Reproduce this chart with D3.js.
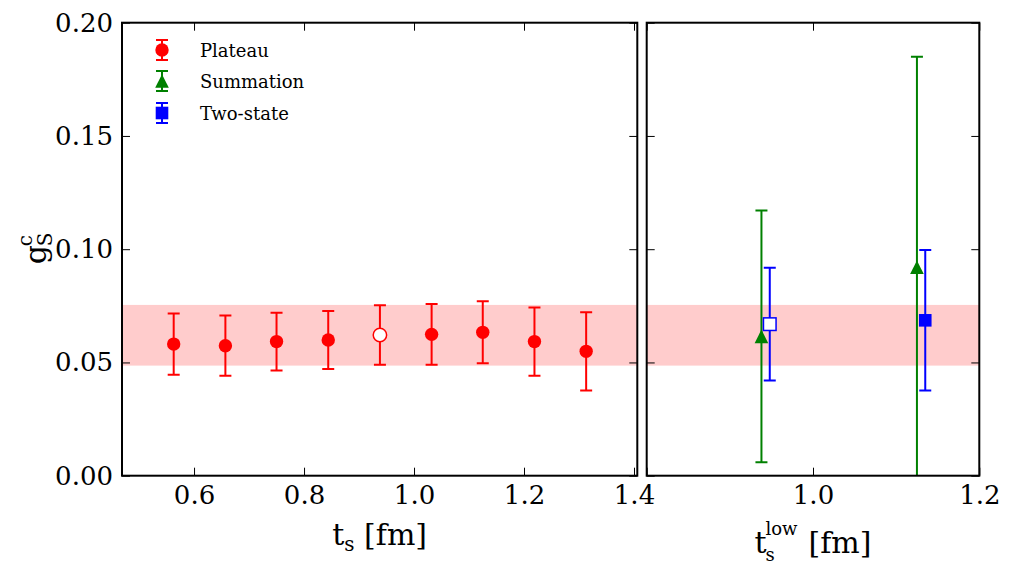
<!DOCTYPE html>
<html>
<head>
<meta charset="utf-8">
<script src="https://cdn.jsdelivr.net/npm/d3@7"></script>
<style>
  body { margin: 0; background: #fff; }
  text { font-family: "DejaVu Serif", serif; }
</style>
</head>
<body>
<svg id="chart"></svg>
<script>
// plateau fits vs source-sink separation
let tsPlateau = [0.563, 0.657, 0.750, 0.844, 0.938, 1.032, 1.125, 1.219, 1.313];
let gPlateau = [0.0581, 0.0574, 0.0592, 0.0599, 0.0621, 0.0624, 0.0633, 0.0592, 0.0549];
let errPlateau = [0.0135, 0.0133, 0.0127, 0.0128, 0.0131, 0.0134, 0.0137, 0.0151, 0.0173];
let openPlateau = [false, false, false, false, true, false, false, false, false];

// summation and two-state fits vs t_s^low
let tsSummation = [0.938, 1.125];
let gSummation = [0.0615, 0.092];
let errSummation = [0.0556, 0.093];
let openSummation = [false, false];

let tsTwoState = [0.948, 1.135];
let gTwoState = [0.0669, 0.0686];
let errTwoState = [0.0249, 0.031];
let openTwoState = [true, false];

// final band
let band = [0.0486, 0.0754];

let leftXTicks = [0.6, 0.8, 1.0, 1.2, 1.4];
let rightXTicks = [0.8, 1.0, 1.2];
let yTicks = [0, 0.05, 0.10, 0.15, 0.20];

let width = 1020, height = 574;
let top_ = 22.7, bottom = 475.7;
let svg = d3.select('#chart').attr('width', width).attr('height', height);

let y = d3.scaleLinear().domain([0, 0.2]).range([bottom, top_]);
let xL = d3.scaleLinear().domain([0.469, 1.406]).range([122, 637.3]);
let xR = d3.scaleLinear().domain([0.8, 1.2]).range([646.7, 979.3]);

let red = '#ff0000', green = '#008000', blue = '#0000ff';

// clip paths for the two panels
let defs = svg.append('defs');
[['clipL', xL], ['clipR', xR]].forEach(([id, sc]) => {
    defs.append('clipPath').attr('id', id).append('rect')
        .attr('x', sc.range()[0]).attr('y', top_)
        .attr('width', sc.range()[1] - sc.range()[0]).attr('height', bottom - top_);
});

let marker = (g, shape, cx, cy, r, color, open) => {
    let fill = open ? '#fff' : color;
    if (shape === 'circle') {
        g.append('circle').attr('cx', cx).attr('cy', cy).attr('r', r)
            .attr('fill', fill).attr('stroke', color).attr('stroke-width', open ? 1.5 : 0);
    } else if (shape === 'triangle') {
        g.append('path')
            .attr('d', `M${cx},${cy - r}L${cx - r},${cy + r}L${cx + r},${cy + r}Z`)
            .attr('fill', fill).attr('stroke', color).attr('stroke-width', open ? 1.5 : 0);
    } else {
        g.append('rect').attr('x', cx - r).attr('y', cy - r)
            .attr('width', 2 * r).attr('height', 2 * r)
            .attr('fill', fill).attr('stroke', color).attr('stroke-width', open ? 1.5 : 0);
    }
};

let errorBar = (g, cx, y1, y2, color) => {
    g.append('line').attr('x1', cx).attr('x2', cx).attr('y1', y1).attr('y2', y2)
        .attr('stroke', color).attr('stroke-width', 2);
    [y1, y2].forEach((yy) => {
        g.append('line').attr('x1', cx - 6).attr('x2', cx + 6).attr('y1', yy).attr('y2', yy)
            .attr('stroke', color).attr('stroke-width', 2);
    });
};

let drawSeries = (g, xs, ys, errs, opens, xScale, shape, color, r) => {
    xs.forEach((xv, i) => {
        errorBar(g, xScale(xv), y(ys[i] + errs[i]), y(ys[i] - errs[i]), color);
    });
    xs.forEach((xv, i) => {
        marker(g, shape, xScale(xv), y(ys[i]), r, color, opens[i]);
    });
};

// panels
let panel = (xScale, clipId) => {
    let g = svg.append('g').attr('clip-path', `url(#${clipId})`);
    g.append('rect')
        .attr('x', xScale.range()[0]).attr('width', xScale.range()[1] - xScale.range()[0])
        .attr('y', y(band[1])).attr('height', y(band[0]) - y(band[1]))
        .attr('fill', 'rgba(255,0,0,0.2)');
    return g;
};

let gL = panel(xL, 'clipL');
drawSeries(gL, tsPlateau, gPlateau, errPlateau, openPlateau, xL, 'circle', red, 6.7);

let gR = panel(xR, 'clipR');
drawSeries(gR, tsSummation, gSummation, errSummation, openSummation, xR, 'triangle', green, 6.8);
drawSeries(gR, tsTwoState, gTwoState, errTwoState, openTwoState, xR, 'square', blue, 6.3);

// axes with inward ticks on all sides
let styleAxis = (g) => {
    g.select('.domain').remove();
    g.selectAll('.tick line').attr('stroke', '#000').attr('stroke-width', 1);
    g.selectAll('.tick text').attr('font-family', '"DejaVu Serif", serif')
        .attr('font-size', 26).attr('fill', '#000');
    g.attr('font-family', null).attr('font-size', null);
};

let drawAxes = (xScale, xTicks, showY, xLabelTicks) => {
    svg.append('g').attr('transform', `translate(0,${bottom})`)
        .call(d3.axisBottom(xScale).tickValues(xTicks).tickSizeInner(-8).tickSizeOuter(0)
            .tickPadding(10).tickFormat((d) => xLabelTicks.includes(d) ? d3.format('.1f')(d) : ''))
        .call(styleAxis);
    svg.append('g').attr('transform', `translate(0,${top_})`)
        .call(d3.axisTop(xScale).tickValues(xTicks).tickSizeInner(-8).tickSizeOuter(0).tickFormat(''))
        .call(styleAxis);
    svg.append('g').attr('transform', `translate(${xScale.range()[0]},0)`)
        .call(d3.axisLeft(y).tickValues(yTicks).tickSizeInner(-8).tickSizeOuter(0)
            .tickPadding(9).tickFormat(showY ? d3.format('.2f') : ''))
        .call(styleAxis);
    svg.append('g').attr('transform', `translate(${xScale.range()[1]},0)`)
        .call(d3.axisRight(y).tickValues(yTicks).tickSizeInner(-8).tickSizeOuter(0).tickFormat(''))
        .call(styleAxis);
    svg.append('rect')
        .attr('x', xScale.range()[0]).attr('y', top_)
        .attr('width', xScale.range()[1] - xScale.range()[0]).attr('height', bottom - top_)
        .attr('fill', 'none').attr('stroke', '#000').attr('stroke-width', 2);
};

drawAxes(xL, leftXTicks, true, leftXTicks);
drawAxes(xR, rightXTicks, false, [1.0, 1.2]);

// axis labels (mathtext-like pieces, then centred)
let centreLabel = (g, cx) => {
    let bb = g.node().getBBox();
    g.attr('transform', `translate(${cx - (bb.x + bb.width / 2)},0)`);
};

let labL = svg.append('g');
let tl = labL.append('text').attr('y', 545).attr('font-size', 30).attr('x', 0);
tl.append('tspan').text('t');
tl.append('tspan').attr('dy', 6).attr('font-size', 20).text('s');
tl.append('tspan').attr('dy', -6).text('\u00a0[fm]');
centreLabel(labL, (xL.range()[0] + xL.range()[1]) / 2);

let labR = svg.append('g');
labR.append('text').attr('x', 0).attr('y', 553).attr('font-size', 30).text('t');
labR.append('text').attr('x', 11).attr('y', 561).attr('font-size', 18).text('s');
labR.append('text').attr('x', 11).attr('y', 535).attr('font-size', 18).text('low');
labR.append('text').attr('x', 54).attr('y', 553).attr('font-size', 30).text('[fm]');
centreLabel(labR, (xR.range()[0] + xR.range()[1]) / 2);

let labY = svg.append('g').attr('transform', `translate(46,${(top_ + bottom) / 2}) rotate(-90)`);
labY.append('text').attr('x', -15).attr('y', 0).attr('font-size', 30).text('g');
labY.append('text').attr('x', 3).attr('y', 6).attr('font-size', 20).text('S');
labY.append('text').attr('x', 3).attr('y', -14).attr('font-size', 20).text('c');

// legend
let legendItems = [
    {name: 'Plateau', shape: 'circle', color: red, r: 6.7},
    {name: 'Summation', shape: 'triangle', color: green, r: 6.8},
    {name: 'Two-state', shape: 'square', color: blue, r: 6.3}
];
let legendY = [50, 81, 113];
let legend = svg.append('g');
legendItems.forEach((item, i) => {
    let cy = legendY[i];
    errorBar(legend, 162, cy - 10, cy + 10, item.color);
    marker(legend, item.shape, 162, cy, item.r, item.color, false);
    legend.append('text').attr('x', 200).attr('y', cy + 6.5)
        .attr('font-size', 18).text(item.name);
});
</script>
</body>
</html>
